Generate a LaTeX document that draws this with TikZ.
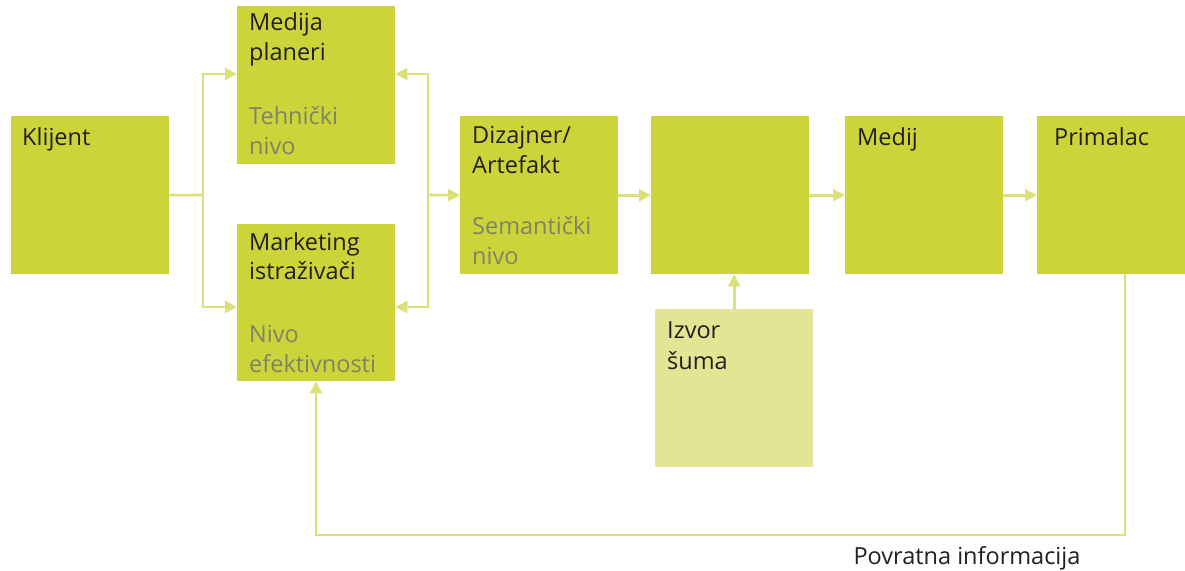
\documentclass[tikz,border=0pt]{standalone}
\usepackage{fontspec}
\setmainfont{Open Sans}
\usetikzlibrary{arrows.meta}
\definecolor{boxgreen}{RGB}{204,212,58}
\definecolor{lightgreen}{RGB}{227,229,148}
\definecolor{linegreen}{RGB}{220,224,120}
\definecolor{txtdark}{RGB}{35,31,32}
\definecolor{txtgray}{RGB}{128,132,98}
\tikzset{
  box/.style={fill=boxgreen, draw=none, minimum width=158pt, minimum height=158pt, anchor=north west, inner sep=0pt},
  noisebox/.style={box, fill=lightgreen},
  lbl/.style={anchor=base west, inner sep=0pt, text=txtdark, font=\fontsize{23.5}{30}\selectfont},
  sublbl/.style={lbl, text=txtgray},
  conn/.style={draw=linegreen, line width=2.6pt},
  arr/.style={conn, -{Triangle[length=12pt,width=12pt]}}
}
\begin{document}
\begin{tikzpicture}[x=1pt,y=-1pt]
\useasboundingbox (0,0) rectangle (1185,570);
% boxes
\node[box, minimum height=158pt] (klijent) at (11,116) {};
\node[box, minimum height=158pt] (medija) at (237,6) {};
\node[box, minimum height=157pt] (marketing) at (237,224) {};
\node[box] (dizajner) at (460,116) {};
\node[box] (kanal) at (651,116) {};
\node[box] (medij) at (845,116) {};
\node[box, minimum width=148pt] (primalac) at (1037,116) {};
\node[noisebox] (izvor) at (655,309) {};
% labels
\node[lbl] (tklijent) at (22,145) {Klijent};
\node[lbl] (tmedija1) at (249,30) {Medija};
\node[lbl] (tmedija2) at (249,60) {planeri};
\node[sublbl] (ttehn1) at (249,124) {Tehnički};
\node[sublbl] (ttehn2) at (249,154) {nivo};
\node[lbl] (tmark1) at (249,250) {Marketing};
\node[lbl] (tmark2) at (249,279) {istraživači};
\node[sublbl] (tnivo1) at (249,342) {Nivo};
\node[sublbl] (tnivo2) at (249,372) {efektivnosti};
\node[lbl] (tdiz1) at (472,143) {Dizajner/};
\node[lbl] (tdiz2) at (472,173) {Artefakt};
\node[sublbl] (tsem1) at (472,234) {Semantički};
\node[sublbl] (tsem2) at (472,264) {nivo};
\node[lbl] (tmedij) at (857,145) {Medij};
\node[lbl] (tprim) at (1054,145) {Primalac};
\node[lbl] (tizvor1) at (667,338) {Izvor};
\node[lbl] (tizvor2) at (667,369) {šuma};
\node[lbl, anchor=base] (tpovratna) at (967,564) {Povratna informacija};
% connector points
\coordinate (jl) at (203,195);
\coordinate (jlt) at (203,74);
\coordinate (jlb) at (203,307);
\coordinate (jr) at (428,195);
\coordinate (jrt) at (428,74);
\coordinate (jrb) at (428,307);
\coordinate (fb0) at (1125,274);
\coordinate (fb1) at (1125,535);
\coordinate (fb2) at (316,535);
% connectors
\draw[conn] (klijent.east) -- (jl);
\draw[arr] (jl) -- (jlt) -- (jlt -| medija.west);
\draw[arr] (jl) -- (jlb) -- (jlb -| marketing.west);
\draw[arr] (jr) -- (dizajner.west);
\draw[arr] (jr) -- (jrt) -- (jrt -| medija.east);
\draw[arr] (jr) -- (jrb) -- (jrb -| marketing.east);
\draw[arr] (dizajner.east) -- (kanal.west);
\draw[arr] (kanal.east) -- (medij.west);
\draw[arr] (medij.east) -- (primalac.west);
\draw[arr] (izvor.north) -- (izvor.north |- kanal.south);
\draw[arr] (fb0) -- (fb1) -- (fb2) -- (fb2 |- marketing.south);
\end{tikzpicture}
\end{document}
